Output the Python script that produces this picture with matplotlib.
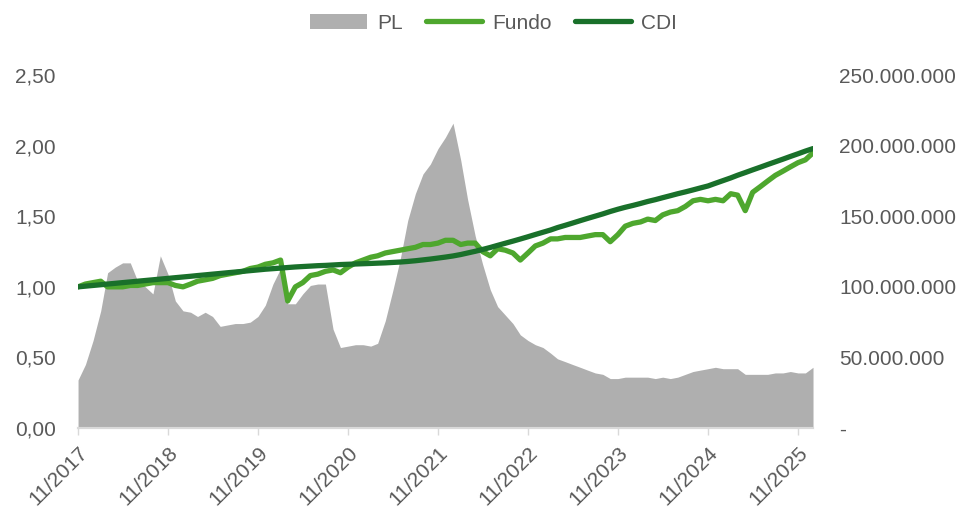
import pandas as pd
import matplotlib
matplotlib.use('Agg')
import matplotlib.pyplot as plt
import matplotlib.dates as mdates
import matplotlib.ticker as ticker

plt.rcParams['font.family'] = ['Liberation Sans', 'DejaVu Sans']
plt.rcParams['font.size'] = 15

TEXT_GRAY = '#595959'
AXIS_GRAY = '#d9d9d9'

# monthly observations, nov/2017 .. jan/2026
dates = pd.date_range('2017-11-01', '2026-01-01', freq='MS')

# patrimonio liquido, R$ milhoes
pl_mm = [
    34, 45, 62, 83, 110, 114, 117, 117, 104, 100, 95, 122,
    109, 90, 83, 82, 79, 82, 79, 72, 73, 74, 74, 75,
    79, 87, 102, 113, 88, 88, 95, 101, 102, 102, 70, 57,
    58, 59, 59, 58, 60, 76, 97, 120, 147, 166, 180, 187,
    198, 206, 216, 190, 162, 136, 116, 98, 86, 80, 74, 66,
    62, 59, 57, 53, 49, 47, 45, 43, 41, 39, 38, 35,
    35, 36, 36, 36, 36, 35, 36, 35, 36, 38, 40, 41,
    42, 43, 42, 42, 42, 38, 38, 38, 38, 39, 39, 40,
    39, 39, 43,
]

# cota do fundo, base 1
fundo = [
    1.00, 1.02, 1.03, 1.04, 1.00, 1.00, 1.00, 1.01, 1.01, 1.02, 1.03, 1.03,
    1.03, 1.01, 1.00, 1.02, 1.04, 1.05, 1.06, 1.08, 1.09, 1.10, 1.11, 1.13,
    1.14, 1.16, 1.17, 1.19, 0.90, 1.00, 1.03, 1.08, 1.09, 1.11, 1.12, 1.10,
    1.14, 1.17, 1.19, 1.21, 1.22, 1.24, 1.25, 1.26, 1.27, 1.28, 1.30, 1.30,
    1.31, 1.33, 1.33, 1.30, 1.31, 1.31, 1.25, 1.22, 1.27, 1.26, 1.24, 1.19,
    1.24, 1.29, 1.31, 1.34, 1.34, 1.35, 1.35, 1.35, 1.36, 1.37, 1.37, 1.32,
    1.37, 1.43, 1.45, 1.46, 1.48, 1.47, 1.51, 1.53, 1.54, 1.57, 1.61, 1.62,
    1.61, 1.62, 1.61, 1.66, 1.65, 1.54, 1.67, 1.71, 1.75, 1.79, 1.82, 1.85,
    1.88, 1.90, 1.95,
]

# CDI acumulado, base 1
cdi = [
    1.000, 1.005, 1.010, 1.015, 1.020, 1.025, 1.030, 1.035, 1.040, 1.045, 1.050, 1.055,
    1.060, 1.065, 1.070, 1.075, 1.080, 1.085, 1.090, 1.095, 1.100, 1.105, 1.110, 1.115,
    1.120, 1.125, 1.129, 1.133, 1.137, 1.141, 1.144, 1.147, 1.150, 1.152, 1.155, 1.158,
    1.160, 1.162, 1.164, 1.166, 1.168, 1.170, 1.173, 1.176, 1.180, 1.185, 1.191, 1.197,
    1.204, 1.211, 1.219, 1.229, 1.240, 1.252, 1.265, 1.279, 1.294, 1.309, 1.324, 1.339,
    1.355, 1.371, 1.387, 1.403, 1.420, 1.436, 1.452, 1.469, 1.485, 1.501, 1.517, 1.534,
    1.550, 1.564, 1.577, 1.591, 1.605, 1.618, 1.632, 1.646, 1.660, 1.673, 1.687, 1.701,
    1.715, 1.734, 1.753, 1.772, 1.791, 1.810, 1.829, 1.848, 1.867, 1.886, 1.905, 1.924,
    1.943, 1.962, 1.980,
]

pl = pd.Series(pl_mm, index=dates) * 1e6

fig = plt.figure(figsize=(9.78, 5.15), dpi=100)
ax = fig.add_axes([0.0798, 0.169, 0.7515, 0.685])
ax_pl = ax.twinx()

# area on the secondary axis, lines kept on top
ax_pl.fill_between(pl.index, 0, pl.values, color='#afafaf', linewidth=0, label='PL')
ax.set_zorder(ax_pl.get_zorder() + 1)
ax.patch.set_visible(False)

ax.plot(dates, fundo, color='#4ea72e', linewidth=3.8, solid_capstyle='round', label='Fundo')
ax.plot(dates, cdi, color='#19702a', linewidth=3.8, solid_capstyle='round', label='CDI')

ax.set_xlim(dates[0], dates[-1])
ax.set_ylim(0, 2.5)
ax_pl.set_ylim(0, 250e6)

ax.yaxis.set_major_locator(ticker.MultipleLocator(0.5))
ax.yaxis.set_major_formatter(
    ticker.FuncFormatter(lambda v, _: f'{v:.2f}'.replace('.', ','))
)
ax_pl.yaxis.set_major_locator(ticker.MultipleLocator(50e6))
ax_pl.yaxis.set_major_formatter(
    ticker.FuncFormatter(lambda v, _: '-' if v == 0 else f'{v:,.0f}'.replace(',', '.'))
)

ax.xaxis.set_major_locator(mdates.MonthLocator(bymonth=11))
ax.xaxis.set_major_formatter(mdates.DateFormatter('%m/%Y'))
for lbl in ax.get_xticklabels():
    lbl.set_rotation(45)
    lbl.set_ha('right')
    lbl.set_rotation_mode('anchor')

for a in (ax, ax_pl):
    for side in ('top', 'left', 'right'):
        a.spines[side].set_visible(False)
    a.spines['bottom'].set_color(AXIS_GRAY)
    a.spines['bottom'].set_linewidth(1.5)

ax.tick_params(axis='x', colors=AXIS_GRAY, labelcolor=TEXT_GRAY, length=5, width=1, pad=6)
ax.tick_params(axis='y', length=0, labelcolor=TEXT_GRAY, pad=16)
ax_pl.tick_params(axis='y', length=0, labelcolor=TEXT_GRAY, pad=19)

handles = ax_pl.get_legend_handles_labels()[0] + ax.get_legend_handles_labels()[0]
labels = ['PL', 'Fundo', 'CDI']
leg = fig.legend(
    handles, labels,
    loc='center',
    bbox_to_anchor=(0.505, 0.955),
    ncol=3,
    frameon=False,
    handlelength=2.7,
    handletextpad=0.5,
    columnspacing=1.1,
)
for txt in leg.get_texts():
    txt.set_color(TEXT_GRAY)

fig.savefig('out.png', dpi=100)
